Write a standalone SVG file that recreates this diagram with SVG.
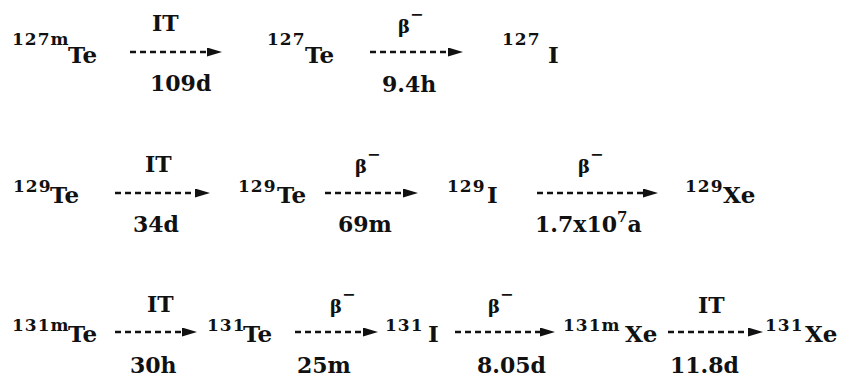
<svg xmlns="http://www.w3.org/2000/svg" width="850" height="377" viewBox="0 0 850 377">
<style>
text{font-family:'DejaVu Serif','Liberation Serif',serif;font-weight:700;fill:#111}
.el{font-size:23px}
.sup{font-size:17px;letter-spacing:1px}
.lab{font-size:22px}
.beta{font-size:18px}
.c{stroke:#111;stroke-width:2.6;stroke-dasharray:6 4;fill:none;marker-end:url(#ah)}
</style>
<defs>
<marker id="ah" markerUnits="userSpaceOnUse" markerWidth="16" markerHeight="10" refX="0" refY="4.5" orient="auto">
<path d="M0,0 L15,4.5 L0,9 Z" fill="#111"/>
</marker>
</defs>
<rect width="850" height="377" fill="#fff"/>

<g id="n1"><text><tspan class="sup" x="12" y="45">127m</tspan><tspan class="el" x="68" y="63">Te</tspan></text></g>
<g id="n2"><text><tspan class="sup" x="267" y="45">127</tspan><tspan class="el" x="305" y="63">Te</tspan></text></g>
<g id="n3"><text><tspan class="sup" x="502" y="45">127</tspan><tspan class="el" x="548" y="63">I</tspan></text></g>

<g id="n4"><text><tspan class="sup" x="13" y="192">129</tspan><tspan class="el" x="50" y="203">Te</tspan></text></g>
<g id="n5"><text><tspan class="sup" x="238" y="192">129</tspan><tspan class="el" x="277" y="203">Te</tspan></text></g>
<g id="n6"><text><tspan class="sup" x="447" y="192">129</tspan><tspan class="el" x="487" y="203">I</tspan></text></g>
<g id="n7"><text><tspan class="sup" x="685" y="192">129</tspan><tspan class="el" x="723" y="203">Xe</tspan></text></g>

<g id="n8"><text><tspan class="sup" x="12" y="331">131m</tspan><tspan class="el" x="68" y="342">Te</tspan></text></g>
<g id="n9"><text><tspan class="sup" x="207" y="331">131</tspan><tspan class="el" x="243" y="342">Te</tspan></text></g>
<g id="n10"><text><tspan class="sup" x="385" y="331">131</tspan><tspan class="el" x="428" y="342">I</tspan></text></g>
<g id="n11"><text><tspan class="sup" x="563" y="331">131m</tspan><tspan class="el" x="625" y="342">Xe</tspan></text></g>
<g id="n12"><text><tspan class="sup" x="765" y="331">131</tspan><tspan class="el" x="805" y="342">Xe</tspan></text></g>

<g id="connectors">
<line class="c" x1="130" y1="52" x2="207" y2="52"/>
<line class="c" x1="370" y1="52" x2="448" y2="52"/>
<line class="c" x1="115" y1="193" x2="195" y2="193"/>
<line class="c" x1="325" y1="193" x2="403" y2="193"/>
<line class="c" x1="537" y1="193" x2="643" y2="193"/>
<line class="c" x1="115" y1="332" x2="182" y2="332"/>
<line class="c" x1="295" y1="332" x2="363" y2="332"/>
<line class="c" x1="455" y1="332" x2="540" y2="332"/>
<line class="c" x1="668" y1="332" x2="748" y2="332"/>

<text class="lab" x="152" y="31">IT</text>
<text class="lab" x="150" y="91">109d</text>
<text class="beta" x="398" y="33">β<tspan font-size="16" dy="-13">−</tspan></text>
<text class="lab" x="382" y="92">9.4h</text>

<text class="lab" x="145" y="172">IT</text>
<text class="lab" x="133" y="232">34d</text>
<text class="beta" x="355" y="173">β<tspan font-size="16" dy="-13">−</tspan></text>
<text class="lab" x="338" y="232">69m</text>
<text class="beta" x="578" y="173">β<tspan font-size="16" dy="-13">−</tspan></text>
<text class="lab" x="535" y="232">1.7x10<tspan font-size="15" dy="-10">7</tspan><tspan dy="10">a</tspan></text>

<text class="lab" x="147" y="312">IT</text>
<text class="lab" x="130" y="373">30h</text>
<text class="beta" x="330" y="313">β<tspan font-size="16" dy="-13">−</tspan></text>
<text class="lab" x="297" y="373">25m</text>
<text class="beta" x="488" y="313">β<tspan font-size="16" dy="-13">−</tspan></text>
<text class="lab" x="477" y="373">8.05d</text>
<text class="lab" x="698" y="313">IT</text>
<text class="lab" x="670" y="373">11.8d</text>
</g>
</svg>
